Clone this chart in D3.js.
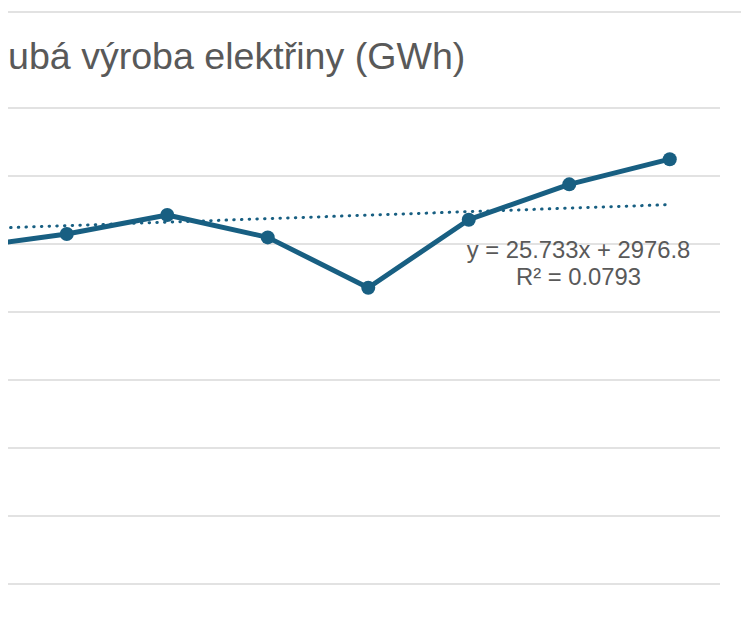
<!DOCTYPE html>
<html>
<head>
<meta charset="utf-8">
<script src="https://cdn.jsdelivr.net/npm/d3@7"></script>
<style>
  html, body { margin: 0; padding: 0; background: #fff; }
  svg { display: block; }
  text { font-family: "Liberation Sans", Arial, sans-serif; }
</style>
</head>
<body>
<svg id="chart" width="741" height="639"></svg>
<script>
// Period indices (1 = first year of the series) and gross output in GWh
const periodCount = 12;
const periods = [5, 6, 7, 8, 9, 10, 11, 12];
const output  = [2970, 3070, 3210, 3045, 2675, 3175, 3435, 3620];

// Linear trend reported for the series
const trendSlope = 25.733;
const trendIntercept = 2976.8;
const trendR2 = 0.0793;

const yTicks = [0, 500, 1000, 1500, 2000, 2500, 3000, 3500, 4000];
const titleText = "Hrubá výroba elektřiny (GWh)";

const W = 741, H = 639;
const svg = d3.select("#chart");
const colour = "#185f82";
const grid = "#d9d9d9";
const textGrey = "#595959";
const titleSize = 37.6;

// Everything is shown through a window that starts a few pixels in from the left
svg.append("defs").append("clipPath").attr("id", "view")
  .append("rect").attr("x", 8).attr("y", 0).attr("width", W - 8).attr("height", H);
const g = svg.append("g").attr("clip-path", "url(#view)");

// Plot area
const plot = { left: -486, right: 720, top: 107.5, bottom: 651.5 };

const x = d3.scaleBand()
  .domain(d3.range(1, periodCount + 1))
  .range([plot.left, plot.right]);
const cx = i => x(i) + x.bandwidth() / 2;

const y = d3.scaleLinear()
  .domain([yTicks[0], yTicks[yTicks.length - 1]])
  .range([plot.bottom, plot.top]);

// Chart border line at the top
g.append("line")
  .attr("x1", 0).attr("x2", W)
  .attr("y1", 12).attr("y2", 12)
  .attr("stroke", grid).attr("stroke-width", 1.5);

// Horizontal gridlines
const yAxis = d3.axisLeft(y).tickValues(yTicks).tickSize(-(plot.right - plot.left)).tickFormat("");
const ga = g.append("g").attr("transform", `translate(${plot.left},0)`).call(yAxis);
ga.select(".domain").remove();
ga.selectAll(".tick line").attr("stroke", grid).attr("stroke-width", 1.5);

// Title
const title = g.append("text")
  .attr("y", 69)
  .attr("font-size", titleSize)
  .attr("fill", textGrey)
  .text(titleText);
const probe = svg.append("text").attr("font-size", titleSize).text(titleText.slice(0, 2));
const lead = probe.node().getComputedTextLength();
probe.remove();
title.attr("x", 8 - lead);

// Trendline
const trendPts = d3.range(1, periodCount + 1).map(i => [i, trendIntercept + trendSlope * i]);
const trendLine = d3.line().x(d => cx(d[0])).y(d => y(d[1]));
g.append("path")
  .datum([trendPts[0], trendPts[trendPts.length - 1]])
  .attr("d", trendLine)
  .attr("fill", "none")
  .attr("stroke", colour)
  .attr("stroke-width", 3)
  .attr("stroke-linecap", "round")
  .attr("stroke-dasharray", "0.5 7.2");

// Series line and markers
const series = periods.map((p, k) => [p, output[k]]);
const line = d3.line().x(d => cx(d[0])).y(d => y(d[1]));
g.append("path")
  .datum(series)
  .attr("d", line)
  .attr("fill", "none")
  .attr("stroke", colour)
  .attr("stroke-width", 5)
  .attr("stroke-linejoin", "round");

g.selectAll("circle.pt")
  .data(series)
  .join("circle")
  .attr("class", "pt")
  .attr("cx", d => cx(d[0]))
  .attr("cy", d => y(d[1]))
  .attr("r", 7)
  .attr("fill", colour);

// Trendline equation label
const label = g.append("text")
  .attr("text-anchor", "middle")
  .attr("font-size", 23.8)
  .attr("fill", textGrey);
label.append("tspan").attr("x", 578.5).attr("y", 258)
  .text(`y = ${trendSlope}x + ${trendIntercept}`);
label.append("tspan").attr("x", 578.5).attr("y", 285)
  .text(`R² = ${trendR2}`);
</script>
</body>
</html>
